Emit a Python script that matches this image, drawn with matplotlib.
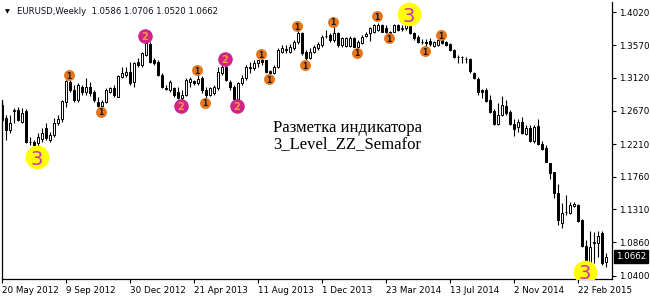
import numpy as np
import matplotlib
matplotlib.use("Agg")
from matplotlib import pyplot as plt


# Недельные свечи EURUSD, с 20 May 2012 по последнюю неделю
opens = [
    1.2746, 1.2563, 1.2402, 1.2664, 1.2677, 1.2516, 1.2668, 1.2235, 1.2242, 1.2220,
    1.2275, 1.2426, 1.2265, 1.2334, 1.2494, 1.2550, 1.2791, 1.3066, 1.2952, 1.2815,
    1.2997, 1.2929, 1.2997, 1.2929, 1.2791, 1.2735, 1.2790, 1.2929, 1.2975, 1.2860,
    1.3135, 1.3158, 1.3204, 1.3066, 1.3341, 1.3296, 1.3433, 1.3590, 1.3364, 1.3341,
    1.3158, 1.2980, 1.2952, 1.2975, 1.2929, 1.2840, 1.2890, 1.3066, 1.3070, 1.3050,
    1.3113, 1.2952, 1.2883, 1.2915, 1.2975, 1.3182, 1.3272, 1.3066, 1.2997, 1.2830,
    1.3044, 1.3113, 1.3272, 1.3250, 1.3319, 1.3364, 1.3364, 1.3215, 1.3180, 1.3272,
    1.3479, 1.3520, 1.3479, 1.3529, 1.3610, 1.3740, 1.3479, 1.3390, 1.3479, 1.3525,
    1.3571, 1.3690, 1.3708, 1.3639, 1.3731, 1.3571, 1.3560, 1.3555, 1.3671, 1.3548,
    1.3594, 1.3700, 1.3731, 1.3754, 1.3777, 1.3850, 1.3800, 1.3752, 1.3750, 1.3840,
    1.3790, 1.3810, 1.3845, 1.3731, 1.3685, 1.3616, 1.3610, 1.3626, 1.3560, 1.3571,
    1.3635, 1.3610, 1.3580, 1.3502, 1.3410, 1.3405, 1.3385, 1.3374, 1.3182, 1.3099,
    1.2952, 1.2952, 1.2815, 1.2668, 1.2485, 1.2609, 1.2732, 1.2650, 1.2485, 1.2448,
    1.2512, 1.2343, 1.2434, 1.2255, 1.2457, 1.2206, 1.2151, 1.1945, 1.1821, 1.1533,
    1.1128, 1.1275, 1.1258, 1.1358, 1.1372, 1.1166, 1.0808, 1.0570, 1.0863, 1.0854,
    1.0991, 1.0586,
]
highs = [
    1.2815, 1.2609, 1.2609, 1.2705, 1.2718, 1.2705, 1.2691, 1.2310, 1.2265, 1.2357,
    1.2426, 1.2494, 1.2379, 1.2563, 1.2609, 1.2815, 1.3085, 1.3095, 1.3021, 1.3044,
    1.3021, 1.3113, 1.3066, 1.2952, 1.2860, 1.2810, 1.2975, 1.2997, 1.3021, 1.3158,
    1.3272, 1.3272, 1.3341, 1.3341, 1.3388, 1.3479, 1.3625, 1.3610, 1.3388, 1.3364,
    1.3182, 1.3021, 1.3090, 1.2997, 1.2997, 1.2950, 1.3113, 1.3135, 1.3090, 1.3170,
    1.3140, 1.2997, 1.2997, 1.3021, 1.3272, 1.3290, 1.3300, 1.3090, 1.3021, 1.3066,
    1.3158, 1.3296, 1.3341, 1.3364, 1.3370, 1.3385, 1.3370, 1.3227, 1.3296, 1.3525,
    1.3571, 1.3571, 1.3580, 1.3640, 1.3765, 1.3750, 1.3502, 1.3525, 1.3571, 1.3608,
    1.3708, 1.3777, 1.3731, 1.3822, 1.3754, 1.3685, 1.3685, 1.3698, 1.3685, 1.3639,
    1.3708, 1.3754, 1.3822, 1.3860, 1.3868, 1.3860, 1.3845, 1.3770, 1.3855, 1.3855,
    1.3845, 1.3860, 1.3875, 1.3754, 1.3708, 1.3650, 1.3650, 1.3667, 1.3625, 1.3645,
    1.3653, 1.3625, 1.3600, 1.3515, 1.3430, 1.3420, 1.3400, 1.3388, 1.3204, 1.3135,
    1.2961, 1.2975, 1.2883, 1.2687, 1.2778, 1.2870, 1.2815, 1.2677, 1.2549, 1.2549,
    1.2577, 1.2471, 1.2471, 1.2471, 1.2549, 1.2251, 1.2196, 1.1953, 1.1829, 1.1660,
    1.1395, 1.1509, 1.1417, 1.1417, 1.1385, 1.1175, 1.0891, 1.1018, 1.1005, 1.1018,
    1.1014, 1.0706,
]
lows = [
    1.2494, 1.2265, 1.2357, 1.2499, 1.2526, 1.2499, 1.2228, 1.2196, 1.2190, 1.2169,
    1.2242, 1.2265, 1.2242, 1.2310, 1.2471, 1.2516, 1.2723, 1.2929, 1.2791, 1.2791,
    1.2883, 1.2883, 1.2870, 1.2791, 1.2725, 1.2720, 1.2770, 1.2907, 1.2860, 1.2852,
    1.3113, 1.3135, 1.3021, 1.2997, 1.3272, 1.3272, 1.3419, 1.3319, 1.3296, 1.3145,
    1.2975, 1.2952, 1.2929, 1.2860, 1.2830, 1.2815, 1.2870, 1.3000, 1.3021, 1.3021,
    1.2907, 1.2846, 1.2870, 1.2890, 1.2952, 1.3158, 1.3080, 1.2952, 1.2820, 1.2815,
    1.3021, 1.3090, 1.3182, 1.3227, 1.3272, 1.3296, 1.3190, 1.3168, 1.3172, 1.3250,
    1.3456, 1.3456, 1.3460, 1.3500, 1.3590, 1.3440, 1.3360, 1.3375, 1.3456, 1.3502,
    1.3548, 1.3663, 1.3616, 1.3616, 1.3548, 1.3548, 1.3545, 1.3540, 1.3540, 1.3533,
    1.3580, 1.3680, 1.3625, 1.3731, 1.3760, 1.3745, 1.3738, 1.3731, 1.3745, 1.3763,
    1.3763, 1.3777, 1.3720, 1.3639, 1.3594, 1.3580, 1.3540, 1.3560, 1.3550, 1.3560,
    1.3585, 1.3560, 1.3490, 1.3395, 1.3330, 1.3320, 1.3330, 1.3190, 1.3099, 1.2883,
    1.2838, 1.2791, 1.2640, 1.2471, 1.2471, 1.2595, 1.2609, 1.2471, 1.2320, 1.2379,
    1.2347, 1.2330, 1.2242, 1.2228, 1.2196, 1.2128, 1.1963, 1.1725, 1.1464, 1.1097,
    1.1060, 1.1234, 1.1248, 1.1348, 1.1142, 1.0799, 1.0500, 1.0515, 1.0570, 1.0661,
    1.0547, 1.0520,
]
closes = [
    1.2540, 1.2402, 1.2494, 1.2677, 1.2540, 1.2632, 1.2242, 1.2240, 1.2196, 1.2302,
    1.2365, 1.2288, 1.2334, 1.2494, 1.2554, 1.2801, 1.3076, 1.2952, 1.2815, 1.3021,
    1.2929, 1.2997, 1.2915, 1.2815, 1.2735, 1.2790, 1.2952, 1.2975, 1.2883, 1.3145,
    1.3182, 1.3204, 1.3044, 1.3319, 1.3296, 1.3456, 1.3594, 1.3341, 1.3319, 1.3158,
    1.2997, 1.2970, 1.3066, 1.2883, 1.2840, 1.2880, 1.3090, 1.3099, 1.3050, 1.3099,
    1.2952, 1.2883, 1.2975, 1.2997, 1.3204, 1.3272, 1.3090, 1.2997, 1.2830, 1.3044,
    1.3113, 1.3272, 1.3250, 1.3319, 1.3364, 1.3341, 1.3200, 1.3180, 1.3272, 1.3502,
    1.3525, 1.3500, 1.3548, 1.3610, 1.3740, 1.3461, 1.3390, 1.3479, 1.3548, 1.3580,
    1.3685, 1.3700, 1.3639, 1.3731, 1.3571, 1.3663, 1.3663, 1.3671, 1.3548, 1.3616,
    1.3685, 1.3720, 1.3800, 1.3845, 1.3850, 1.3753, 1.3745, 1.3740, 1.3840, 1.3777,
    1.3805, 1.3845, 1.3735, 1.3663, 1.3608, 1.3610, 1.3600, 1.3584, 1.3610, 1.3639,
    1.3600, 1.3571, 1.3502, 1.3406, 1.3400, 1.3410, 1.3380, 1.3218, 1.3113, 1.2929,
    1.2929, 1.2805, 1.2654, 1.2485, 1.2609, 1.2746, 1.2640, 1.2485, 1.2412, 1.2516,
    1.2365, 1.2434, 1.2251, 1.2448, 1.2206, 1.2146, 1.1967, 1.1816, 1.1541, 1.1166,
    1.1266, 1.1280, 1.1372, 1.1385, 1.1156, 1.0808, 1.0570, 1.0799, 1.0845, 1.0945,
    1.0570, 1.0662,
]

# подписи оси времени (каждые 16 недель)
date_labels = ["20 May 2012", "9 Sep 2012", "30 Dec 2012", "21 Apr 2013", "11 Aug 2013",
               "1 Dec 2013", "23 Mar 2014", "13 Jul 2014", "2 Nov 2014", "22 Feb 2015"]
price_ticks = [1.4020, 1.3570, 1.3120, 1.2670, 1.2210, 1.1760, 1.1310, 1.0860, 1.0400]

# точки индикатора 3_Level_ZZ_Semafor: номер свечи, уровень, цена
semafor_bars = [9, 17, 25, 36, 45, 49, 51, 56, 59, 65, 67, 74, 76, 83, 89, 94, 97, 102, 106, 110, 146]
semafor_levels = [3, 1, 1, 2, 2, 1, 1, 2, 2, 1, 1, 1, 1, 1, 1, 1, 1, 3, 1, 1, 3]
semafor_prices = [1.2031, 1.3158, 1.2654, 1.3694, 1.2732, 1.3227, 1.2778, 1.3378, 1.2732, 1.3447,
                  1.3099, 1.3832, 1.3292, 1.3891, 1.3465, 1.3969, 1.3663, 1.3997, 1.3488, 1.3708,
                  1.0455]

o = np.array(opens)
h = np.array(highs)
l = np.array(lows)
c = np.array(closes)
x = np.arange(len(o))

fig = plt.figure(figsize=(6.5, 2.96), dpi=100)
ax = fig.add_axes([0.0026, 0.0564, 0.9394, 0.9368])

# свечи: тени + тела
ax.vlines(x, l, h, color="black", linewidth=0.8, zorder=2)
up = c >= o
bottom = np.minimum(o, c)
height = np.abs(c - o)
ax.bar(x, height, bottom=bottom, width=0.5,
       color=np.where(up, "white", "black"), edgecolor="black", linewidth=0.7, zorder=3)

# маркеры семафора
styles = {
    1: dict(face="#E5761C", text="#1a1a1a", s=62, fs=5.5),
    2: dict(face="#D1238A", text="#F39A3A", s=110, fs=7),
    3: dict(face="#FFFF00", text="#D42FB0", s=290, fs=14),
}
for bar, lvl, price in zip(semafor_bars, semafor_levels, semafor_prices):
    st = styles[lvl]
    ax.scatter(bar - 0.3, price, s=st["s"], color=st["face"], linewidths=0, zorder=5)
    ax.text(bar - 0.3, price, str(lvl), color=st["text"], fontsize=st["fs"],
            fontweight="bold" if lvl < 3 else "normal",
            ha="center", va="center_baseline", zorder=6)

ax.set_xlim(-0.15, 152.5)
ax.set_ylim(1.0350, 1.4162)

ax.set_xticks(x[::16][:len(date_labels)])
ax.set_xticklabels(date_labels, ha="left")
ax.set_yticks(price_ticks)
ax.set_yticklabels(["%.4f" % p for p in price_ticks])
ax.yaxis.tick_right()
ax.tick_params(axis="both", labelsize=6.3, length=3, width=0.8, pad=1.5, colors="black")

for side in ["top", "left"]:
    ax.spines[side].set_visible(False)
for side in ["right", "bottom"]:
    ax.spines[side].set_linewidth(0.9)
ax.plot([0, 0], [0, 0.647], transform=ax.transAxes, color="black", lw=0.9, clip_on=False)

# заголовок графика
ax.text(0.005, 0.965, "\u25BC", transform=ax.transAxes, fontsize=4.5, va="center", ha="left")
ax.text(0.025, 0.965, "EURUSD,Weekly  1.0586 1.0706 1.0520 1.0662", transform=ax.transAxes,
        fontsize=6.1, va="center", ha="left", color="#101020")

# метка текущей цены
ax.annotate("1.0662", xy=(1.0, closes[-1]), xycoords=("axes fraction", "data"),
            xytext=(2.5, 0), textcoords="offset points", color="white", fontsize=6.3,
            va="center", ha="left",
            bbox=dict(boxstyle="square,pad=0.25", fc="black", ec="black"), annotation_clip=False)

ax.text(0.4443, 0.5745, "Разметка индикатора\n3_Level_ZZ_Semafor", transform=ax.transAxes,
        family="Liberation Serif", fontsize=12, va="top", ha="left", linespacing=1.05)

fig.savefig("out.png", dpi=100)
